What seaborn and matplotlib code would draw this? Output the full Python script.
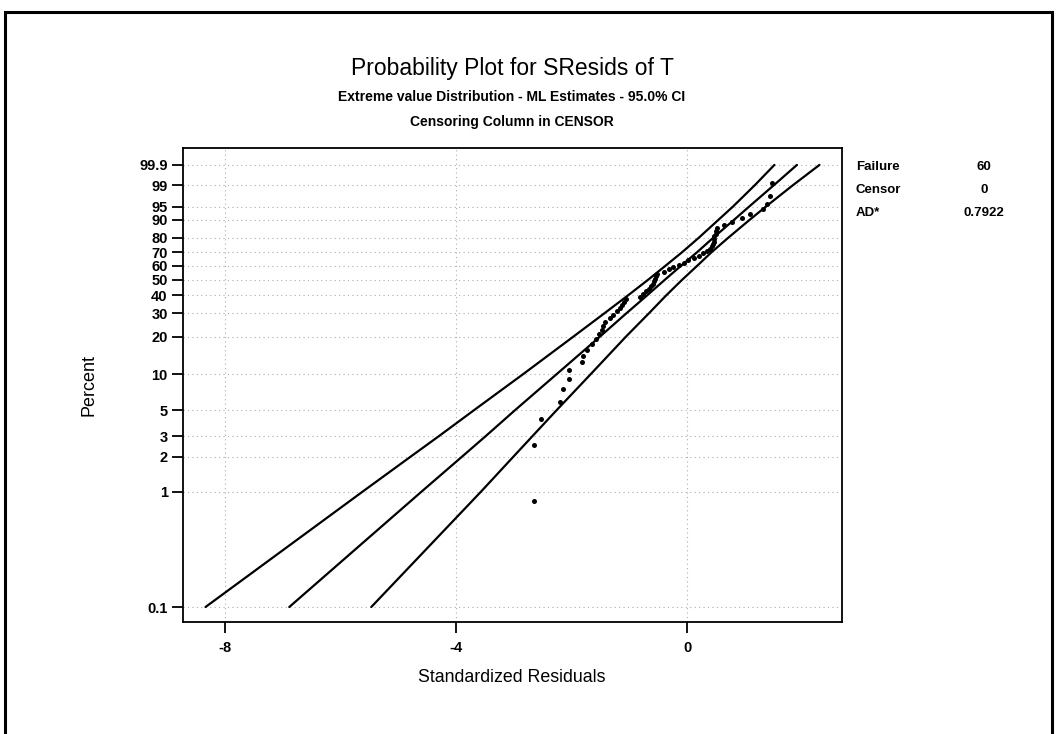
import numpy as np
import pandas as pd
import matplotlib
matplotlib.use("Agg")
import matplotlib.pyplot as plt
import seaborn as sns

# plotting positions (percent) and the standardized residuals
pct = [0.83, 2.5, 4.17, 5.83, 7.5, 9.17, 10.83, 12.5, 14.17, 15.83,
       17.5, 19.17, 20.83, 22.5, 24.17, 25.83, 27.5, 29.17, 30.83, 32.5,
       34.17, 35.83, 37.5, 39.17, 40.83, 42.5, 44.17, 45.83, 47.5, 49.17,
       50.83, 52.5, 54.17, 55.83, 57.5, 59.17, 60.83, 62.5, 64.17, 65.83,
       67.5, 69.17, 70.83, 72.5, 74.17, 75.83, 77.5, 79.17, 80.83, 82.5,
       84.17, 85.83, 87.5, 89.17, 90.83, 92.5, 94.17, 95.83, 97.5, 99.17]
resid = [-2.66, -2.66, -2.54, -2.21, -2.15, -2.04, -2.04, -1.82, -1.80, -1.74,
         -1.65, -1.58, -1.52, -1.48, -1.45, -1.42, -1.33, -1.28, -1.22, -1.17,
         -1.13, -1.09, -1.06, -0.81, -0.77, -0.71, -0.67, -0.63, -0.60, -0.57,
         -0.55, -0.54, -0.53, -0.41, -0.32, -0.24, -0.15, -0.06, 0.02, 0.11,
         0.20, 0.28, 0.34, 0.39, 0.43, 0.44, 0.46, 0.47, 0.47, 0.49,
         0.49, 0.51, 0.63, 0.77, 0.95, 1.09, 1.32, 1.38, 1.43, 1.47]

# fitted line and 95% CI band, x value at each percent level
line_pct = [0.1, 1, 2, 3, 5, 10, 20, 30, 40, 50, 60, 70, 80, 90, 95, 99, 99.9]
fit_x = [-6.89, -4.60, -3.90, -3.49, -2.98, -2.26, -1.51, -1.05, -0.69, -0.39,
         -0.11, 0.17, 0.45, 0.81, 1.07, 1.50, 1.90]
ci_left = [-8.34, -5.62, -4.79, -4.30, -3.69, -2.84, -1.97, -1.43, -1.02, -0.68,
           -0.38, -0.09, 0.20, 0.54, 0.79, 1.17, 1.51]
ci_right = [-5.47, -3.57, -3.01, -2.68, -2.26, -1.67, -1.06, -0.66, -0.36, -0.09,
            0.17, 0.42, 0.71, 1.08, 1.36, 1.83, 2.29]

y_ticks = [0.1, 1, 2, 3, 5, 10, 20, 30, 40, 50, 60, 70, 80, 90, 95, 99, 99.9]
y_tick_labels = ["0.1", "1", "2", "3", "5", "10", "20", "30", "40", "50",
                 "60", "70", "80", "90", "95", "99", "99.9"]
x_ticks = [-8, -4, 0]

stat_names = ["Failure", "Censor", "AD*"]
stat_values = ["60", "0", "0.7922"]

sns.set_theme(style="white")
plt.rcParams["font.family"] = ["Liberation Sans", "DejaVu Sans"]
plt.rcParams["text.color"] = "black"


# smallest extreme value probability scale
def sev(p):
    p = np.clip(np.asarray(p, dtype=float) / 100.0, 1e-12, 1 - 1e-12)
    return np.log(-np.log(1 - p))


def sev_inv(w):
    w = np.clip(np.asarray(w, dtype=float), -50, 5)
    return 100.0 * (1 - np.exp(-np.exp(w)))


W, H = 1060, 734
fig = plt.figure(figsize=(W / 100, H / 100), dpi=100)
ax = fig.add_axes([183 / W, 1 - 622 / H, 659 / W, 474 / H])
ax.set_yscale("function", functions=(sev, sev_inv))

# band and fit lines
lines = pd.concat([
    pd.DataFrame({"x": ci_left, "pct": line_pct, "curve": "upper"}),
    pd.DataFrame({"x": fit_x, "pct": line_pct, "curve": "fit"}),
    pd.DataFrame({"x": ci_right, "pct": line_pct, "curve": "lower"}),
])
sns.lineplot(data=lines, x="x", y="pct", hue="curve", units="curve", estimator=None,
             palette=["black"] * 3, sort=False, linewidth=1.6, legend=False, ax=ax)

sns.scatterplot(x=resid, y=pct, color="black", s=13, linewidth=0, ax=ax, zorder=3)

ax.set_xlim(-8.73, 2.68)
ax.set_ylim(0.0741, 99.9938)
ax.set_xticks(x_ticks)
ax.set_xticklabels([str(t) for t in x_ticks], fontweight="bold")
ax.set_yticks(y_ticks)
ax.set_yticklabels(y_tick_labels, fontweight="bold")
ax.minorticks_off()
ax.tick_params(axis="both", direction="out", length=8, width=1.3, color="black",
               labelsize=10.5, labelcolor="black", pad=3, left=True, bottom=True)
ax.tick_params(axis="x", pad=6)
ax.grid(True, color="0.68", linestyle=(0, (1, 3)), linewidth=0.8)
for s in ax.spines.values():
    s.set_color("black")
    s.set_linewidth(1.3)
ax.set_xlabel("")
ax.set_ylabel("")

# titles and axis labels
fig.text(512 / W, 1 - 68 / H, "Probability Plot for SResids of T", ha="center", va="center", fontsize=16.5)
fig.text(512 / W, 1 - 97 / H, "Extreme value Distribution - ML Estimates - 95.0% CI",
         ha="center", va="center", fontsize=10, fontweight="bold")
fig.text(512 / W, 1 - 122 / H, "Censoring Column in CENSOR", ha="center", va="center",
         fontsize=10, fontweight="bold")
fig.text(512 / W, 1 - 677 / H, "Standardized Residuals", ha="center", va="center", fontsize=12.8)
fig.text(89 / W, 1 - 385 / H, "Percent", ha="center", va="center", rotation=90, fontsize=13)

# statistics table on the right
for k, (name, val) in enumerate(zip(stat_names, stat_values)):
    y = 1 - (167 + 23 * k) / H
    fig.text(856 / W, y, name, ha="left", va="center", fontsize=9.5, fontweight="bold")
    fig.text(984 / W, y, val, ha="center", va="center", fontsize=9.5, fontweight="bold")

# outer frame
fig.add_artist(plt.Rectangle((5 / W, -0.1), (1052 - 5) / W, 1.1 - 12 / H,
                             transform=fig.transFigure, fill=False, edgecolor="black", linewidth=2.2))

fig.savefig("out.png", dpi=100)
